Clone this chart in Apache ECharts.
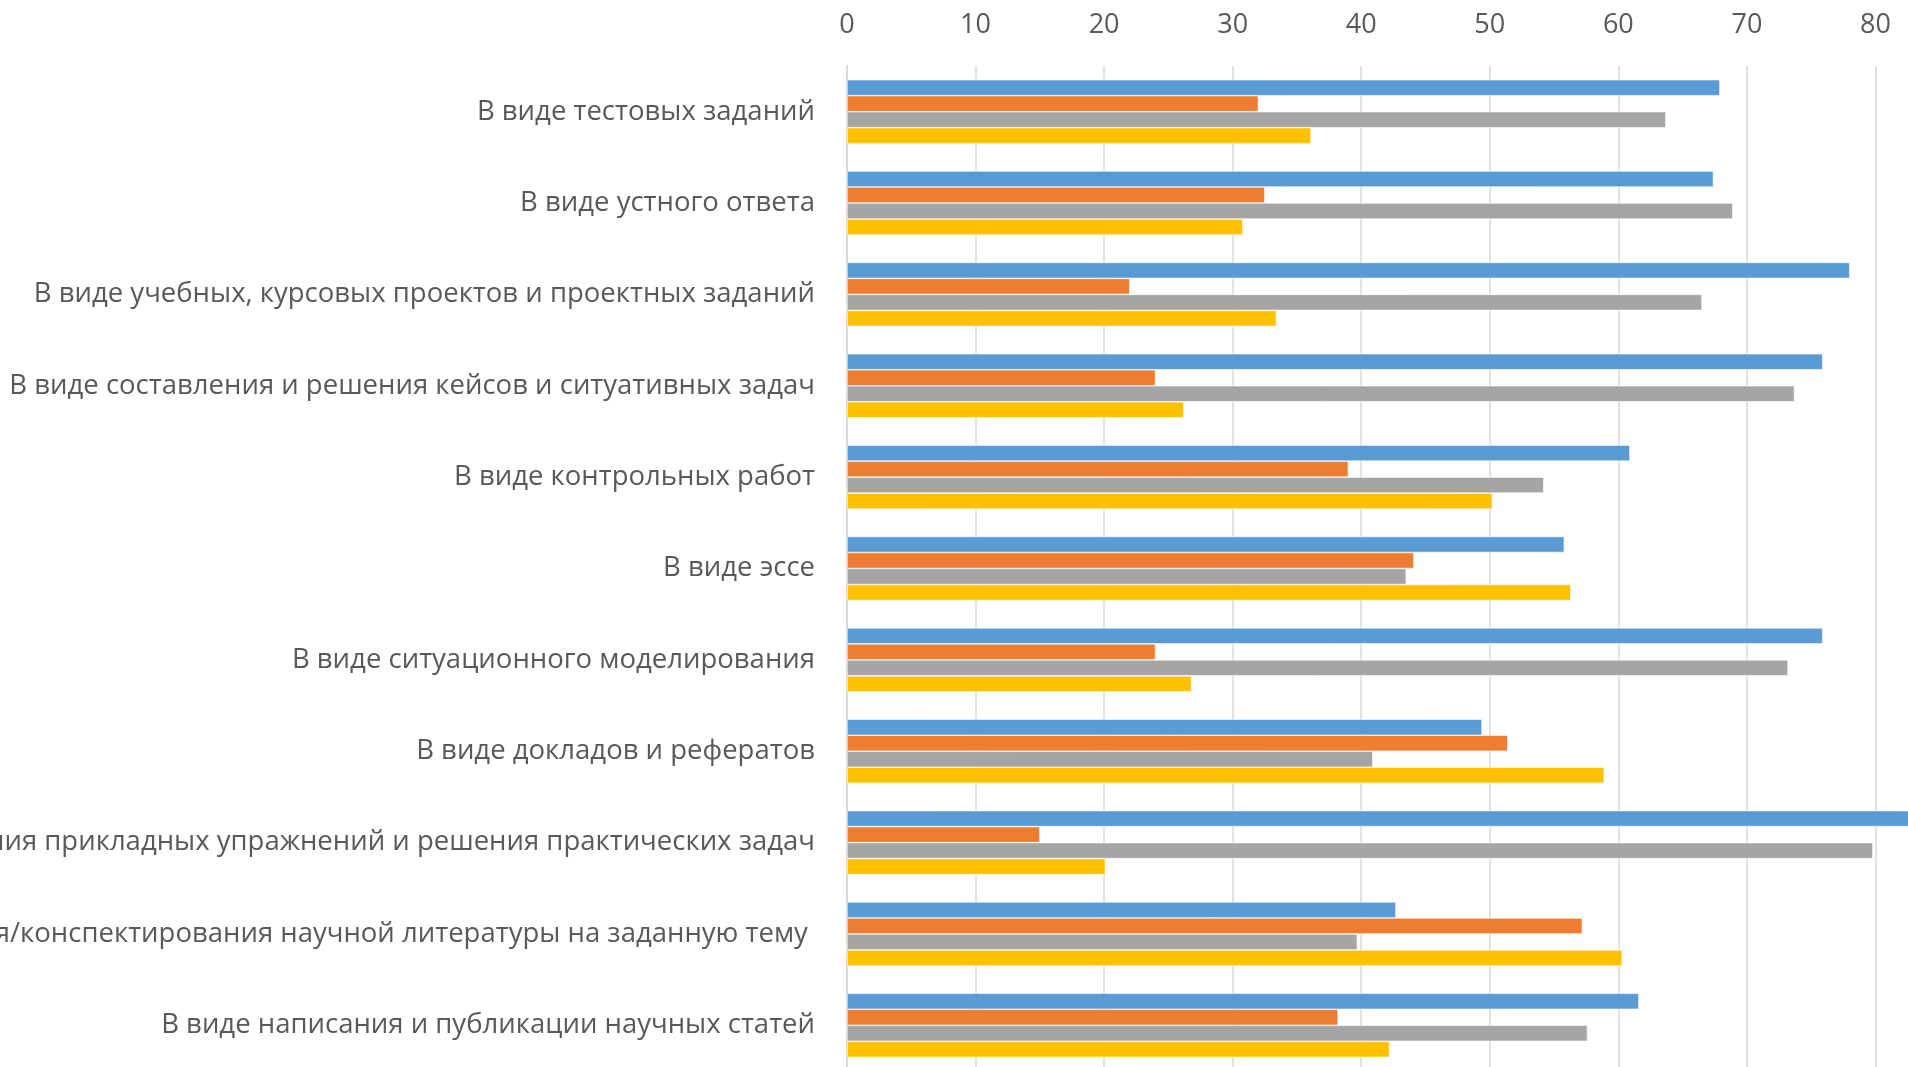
<!DOCTYPE html>
<html>
<head>
<meta charset="utf-8">
<script src="https://cdn.jsdelivr.net/npm/echarts@6/dist/echarts.min.js"></script>
<style>
html,body{margin:0;padding:0;background:#fff;overflow:hidden;}
#chart{width:1908px;height:1067px;}
</style>
</head>
<body>
<div id="chart"></div>
<script>
const categories = [
  "В виде тестовых заданий",
  "В виде устного ответа",
  "В виде учебных, курсовых проектов и проектных заданий",
  "В виде составления и решения кейсов и ситуативных задач",
  "В виде контрольных работ",
  "В виде эссе",
  "В виде ситуационного моделирования",
  "В виде докладов и рефератов",
  "В виде выполнения прикладных упражнений и решения практических задач",
  "В виде реферирования/конспектирования научной литературы на заданную тему ",
  "В виде написания и публикации научных статей"
];
const seriesBlue   = [67.9, 67.4, 78.0, 75.9, 60.9, 55.8, 75.9, 49.4, 85.0, 42.7, 61.6];
const seriesOrange = [32.0, 32.5, 22.0, 24.0, 39.0, 44.1, 24.0, 51.4, 15.0, 57.2, 38.2];
const seriesGray   = [63.7, 68.9, 66.5, 73.7, 54.2, 43.5, 73.2, 40.9, 79.8, 39.7, 57.6];
const seriesYellow = [36.1, 30.8, 33.4, 26.2, 50.2, 56.3, 26.8, 58.9, 20.1, 60.3, 42.2];
const xTicks = { min: 0, max: 90, interval: 10 };

const colors = ["#5B9BD5", "#ED7D31", "#A5A5A5", "#FFC000"];
const allSeries = [seriesBlue, seriesOrange, seriesGray, seriesYellow];

const chart = echarts.init(document.getElementById('chart'), null, {renderer: 'canvas'});
chart.setOption({
  animation: false,
  backgroundColor: '#ffffff',
  grid: { left: 847, right: -96, top: 66, bottom: -4, containLabel: false, outerBoundsMode: 'none' },
  xAxis: {
    type: 'value',
    position: 'top',
    min: xTicks.min, max: xTicks.max, interval: xTicks.interval,
    axisLine: { show: false },
    axisTick: { show: false },
    axisLabel: { color: '#595959', fontSize: 27, fontFamily: 'Open Sans', margin: 27 },
    splitLine: { show: true, lineStyle: { color: '#d9d9d9', width: 1.5 } }
  },
  yAxis: {
    type: 'category',
    inverse: true,
    data: categories,
    axisLine: { show: true, lineStyle: { color: '#d9d9d9', width: 2 } },
    axisTick: { show: false },
    axisLabel: { color: '#595959', fontSize: 27.5, fontFamily: 'Open Sans', margin: 32 },
    splitLine: { show: false }
  },
  series: allSeries.map((d, i) => ({
    type: 'bar',
    data: d,
    barWidth: 16,
    barGap: '0%',
    itemStyle: { color: colors[i], borderColor: '#ffffff', borderWidth: 0.6 }
  }))
});
</script>
</body>
</html>
